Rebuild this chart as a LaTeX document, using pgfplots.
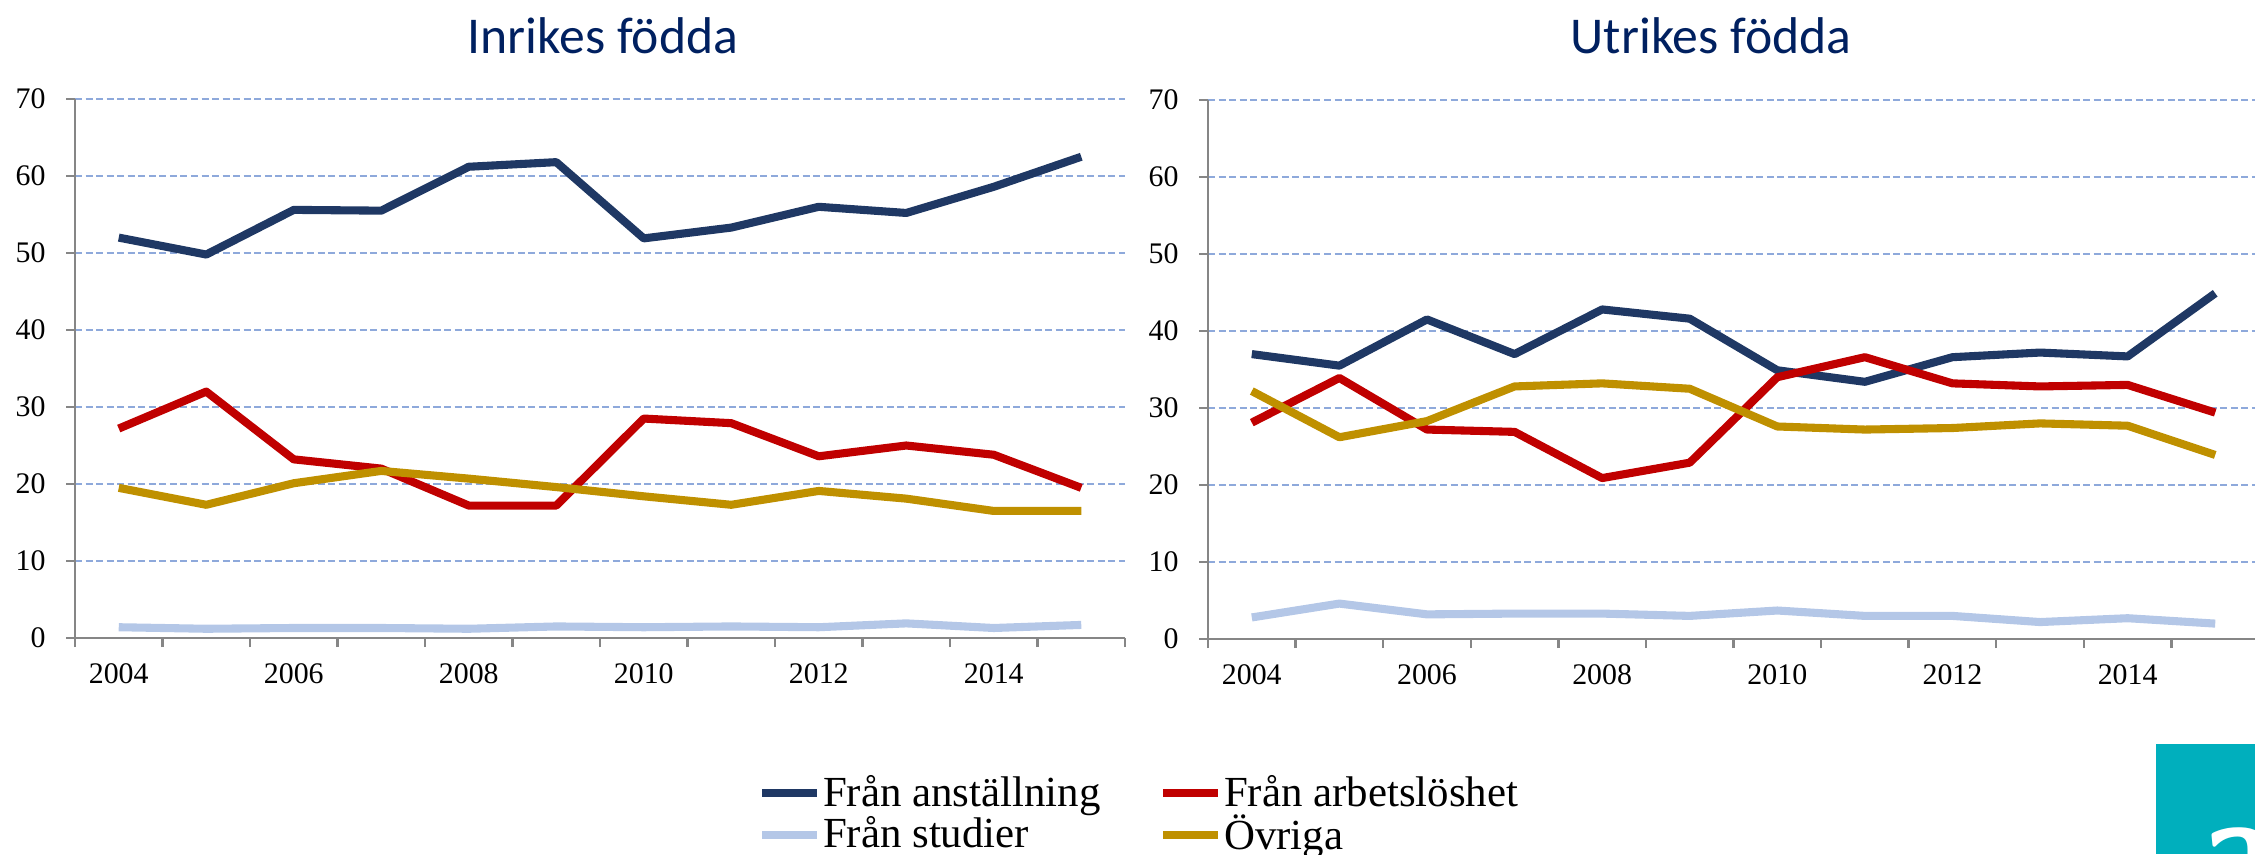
\documentclass[border=0pt]{standalone}
\usepackage{fontspec}
\setmainfont{Liberation Serif}
\newfontfamily\titlefont{Carlito}
\usepackage{pgfplots}
\pgfplotsset{compat=1.18}

\definecolor{cAnst}{HTML}{1F3864}
\definecolor{cArb}{HTML}{C00000}
\definecolor{cStud}{HTML}{B4C7E7}
\definecolor{cOvr}{HTML}{BF9000}
\definecolor{cGrid}{HTML}{8EA9DB}
\definecolor{cAxis}{HTML}{868686}
\definecolor{cTitle}{HTML}{002060}
\definecolor{cLogo}{HTML}{00AFBD}

\pgfplotsset{
  panel/.style={
    scale only axis,
    height=5.39cm,
    xmin=2003.5, xmax=2015.5,
    ymin=0, ymax=70,
    ytick={0,10,...,70},
    xtick={2003.5,2004.5,...,2015.5},
    xticklabels={},
    extra x ticks={2004,2006,2008,2010,2012,2014},
    extra x tick labels={2004,2006,2008,2010,2012,2014},
    extra x tick style={tick style={draw=none}},
    axis lines*=left,
    axis line style={cAxis, line width=0.7pt},
    tick style={cAxis, line width=0.7pt},
    tick align=outside,
    major tick length=0.09cm,
    ymajorgrids,
    major grid style={cGrid, dash pattern=on 2pt off 1pt, line width=0.6pt},
    tick label style={font=\fontsize{8.5}{10}\selectfont},
    yticklabel style={xshift=-0.08cm},
    xticklabel style={yshift=-0.04cm},
    /pgf/number format/assume math mode=true,
    every axis plot/.append style={line width=2.3pt, line join=round},
    clip=false,
  }
}

\begin{document}
\begin{tikzpicture}
\path[use as bounding box] (0,0) rectangle (22.55,8.54);

\node[font=\titlefont\fontsize{14.7}{16}\selectfont, text=cTitle] at (6.03,8.18) {Inrikes födda};
\node[font=\titlefont\fontsize{14.7}{16}\selectfont, text=cTitle] at (17.11,8.18) {Utrikes födda};

\begin{axis}[panel, width=10.5cm, at={(0.75cm,2.16cm)}, anchor=south west,
    legend columns=2,
    legend cell align=left,
    legend image code/.code={\draw[#1] (0cm,0cm) -- (0.55cm,0cm);},
    legend style={at={(axis description cs:0.65,-0.24)}, anchor=north west,
        draw=none, fill=none, inner sep=0pt,
        nodes={inner xsep=0.5pt},
        font=\fontsize{12.2}{14}\selectfont, row sep=-3pt,
        /tikz/every even column/.append style={column sep=0.57cm}},
]
\addplot[cAnst] coordinates {
 (2004,52.0) (2005,49.8) (2006,55.6) (2007,55.5) (2008,61.2) (2009,61.8)
 (2010,51.9) (2011,53.3) (2012,56.0) (2013,55.2) (2014,58.6) (2015,62.5)};
\addplot[cArb] coordinates {
 (2004,27.2) (2005,32.0) (2006,23.2) (2007,22.0) (2008,17.2) (2009,17.2)
 (2010,28.5) (2011,27.9) (2012,23.6) (2013,25.0) (2014,23.8) (2015,19.5)};
\addplot[cStud] coordinates {
 (2004,1.4) (2005,1.2) (2006,1.3) (2007,1.3) (2008,1.2) (2009,1.5)
 (2010,1.4) (2011,1.5) (2012,1.4) (2013,1.9) (2014,1.3) (2015,1.7)};
\addplot[cOvr] coordinates {
 (2004,19.5) (2005,17.3) (2006,20.1) (2007,21.7) (2008,20.7) (2009,19.6)
 (2010,18.4) (2011,17.3) (2012,19.1) (2013,18.1) (2014,16.5) (2015,16.5)};
\legend{Från anställning, Från arbetslöshet, Från studier, Övriga}
\end{axis}

\begin{axis}[panel, width=10.51cm, at={(12.08cm,2.15cm)}, anchor=south west]
\addplot[cAnst] coordinates {
 (2004,37.0) (2005,35.5) (2006,41.5) (2007,37.0) (2008,42.8) (2009,41.6)
 (2010,34.9) (2011,33.4) (2012,36.6) (2013,37.2) (2014,36.7) (2015,44.9)};
\addplot[cArb] coordinates {
 (2004,28.1) (2005,33.9) (2006,27.2) (2007,26.9) (2008,20.9) (2009,22.9)
 (2010,34.0) (2011,36.6) (2012,33.2) (2013,32.8) (2014,33.0) (2015,29.4)};
\addplot[cStud] coordinates {
 (2004,2.8) (2005,4.6) (2006,3.2) (2007,3.3) (2008,3.3) (2009,3.0)
 (2010,3.7) (2011,3.0) (2012,3.0) (2013,2.2) (2014,2.7) (2015,2.0)};
\addplot[cOvr] coordinates {
 (2004,32.2) (2005,26.2) (2006,28.3) (2007,32.8) (2008,33.2) (2009,32.5)
 (2010,27.6) (2011,27.2) (2012,27.4) (2013,28.0) (2014,27.7) (2015,23.9)};
\end{axis}

% logo corner
\fill[cLogo] (21.56,0) rectangle (22.7,1.10);
\node[anchor=north west, inner sep=0pt, text=white,
      font=\sffamily\bfseries\fontsize{40}{40}\selectfont] at (22.0,0.27) {a};
\end{tikzpicture}
\end{document}
